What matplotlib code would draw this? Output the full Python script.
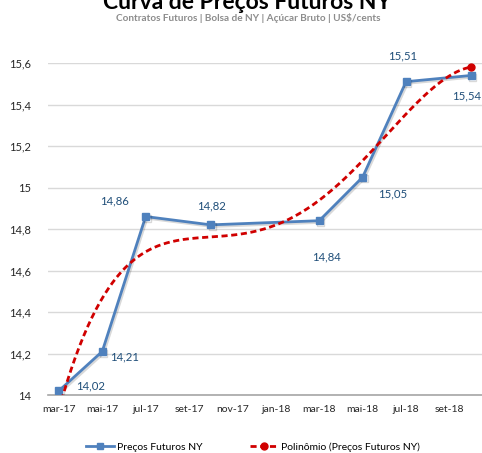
import numpy as np
import matplotlib
matplotlib.use("Agg")
import matplotlib.pyplot as plt
import matplotlib.patheffects as pe
from matplotlib.lines import Line2D
from matplotlib.legend_handler import HandlerLine2D

plt.rcParams['font.family'] = ['Lato', 'DejaVu Sans']

# month axis: mar-17 .. oct-18, one slot per month
months = ['mar-17', 'abr-17', 'mai-17', 'jun-17', 'jul-17', 'ago-17', 'set-17',
          'out-17', 'nov-17', 'dez-17', 'jan-18', 'fev-18', 'mar-18', 'abr-18',
          'mai-18', 'jun-18', 'jul-18', 'ago-18', 'set-18', 'out-18']
contracts = ['mar-17', 'mai-17', 'jul-17', 'out-17', 'mar-18', 'mai-18', 'jul-18', 'out-18']
prices = [14.02, 14.21, 14.86, 14.82, 14.84, 15.05, 15.51, 15.54]
# label offsets in pixels (dx, dy) relative to each point
label_off = [(32, 5), (22, -5), (-31, 16), (1, 19), (7, -36), (30, -17), (-3, 26), (-5, -20)]

x = np.array([months.index(c) for c in contracts], dtype=float)
y = np.array(prices)

# polynomial trendline, order 4 (like excel)
coef = np.polyfit(x, y, 4)
xs = np.linspace(x[0], x[-1], 200)
ys = np.polyval(coef, xs)

fig = plt.figure(figsize=(4.82, 4.53), dpi=100)
ax = fig.add_axes([48/482, 1-395/453, 1-48/482, (395-63)/453])

blue = '#4f81bd'
red = '#d00000'
lbl = '#1f4e79'
dash = (0, (2.2, 1.3))

ax.plot(x, y, color=blue, lw=2, marker='s', ms=5, zorder=3,
        path_effects=[pe.SimpleLineShadow(offset=(1, -1.2), alpha=0.15), pe.Normal()])
ax.plot(xs, ys, color=red, lw=2, ls=dash, zorder=4)
ax.plot(xs[-1], ys[-1], 'o', color=red, ms=5, zorder=5)

for xi, yi, (dx, dy) in zip(x, y, label_off):
    ax.annotate(f"{yi:.2f}".replace('.', ','), (xi, yi), xytext=(dx, dy),
                textcoords='offset pixels', ha='center', va='center',
                color=lbl, fontsize=8.2, annotation_clip=False)

ax.set_xlim(-0.5, len(months) - 0.5)
ax.set_ylim(14, 15.6)
ax.set_xticks(range(0, len(months), 2))
ax.set_xticklabels(months[::2])
yt = np.arange(14, 15.61, 0.2)
ax.set_yticks(yt)
ax.set_yticklabels([f"{v:.1f}".replace('.', ',').replace(',0', '') for v in yt])
ax.tick_params(length=0, labelsize=7.5, colors='#262626', pad=7)
ax.tick_params(axis='y', labelsize=8, pad=12)
ax.grid(axis='y', color='#d9d9d9', lw=1)
ax.set_axisbelow(True)
for s in ['top', 'right', 'left']:
    ax.spines[s].set_visible(False)
ax.spines['bottom'].set_color('#a6a6a6')
ax.spines['bottom'].set_linewidth(1.2)


class EndMarker(HandlerLine2D):
    def get_xdata(self, legend, xdescent, ydescent, width, height, fontsize):
        return [-xdescent, -xdescent + width], [-xdescent + width]


h1 = Line2D([], [], color=blue, lw=2, marker='s', ms=5)
h2 = Line2D([], [], color=red, lw=2, ls=dash, marker='o', ms=5)
fig.legend([h1, h2], ['Preços Futuros NY', 'Polinômio (Preços Futuros NY)'],
           handler_map={h2: EndMarker()}, loc='center', bbox_to_anchor=(0.525, 1-447/453),
           ncol=2, frameon=False, fontsize=7.5, handlelength=2.7, handletextpad=0.3,
           columnspacing=4.5, borderaxespad=0)

fig.text(247/482, 1-9/453, 'Curva de Preços Futuros NY', ha='center', va='baseline',
         fontsize=16.5, fontweight='bold', color='black')
fig.text(248/482, 1-18/453, 'Contratos Futuros | Bolsa de NY | Açúcar Bruto | US$/cents',
         ha='center', va='center', fontsize=7.2, fontweight='bold', color='#8c8c8c')

fig.savefig('out.png', dpi=100)
